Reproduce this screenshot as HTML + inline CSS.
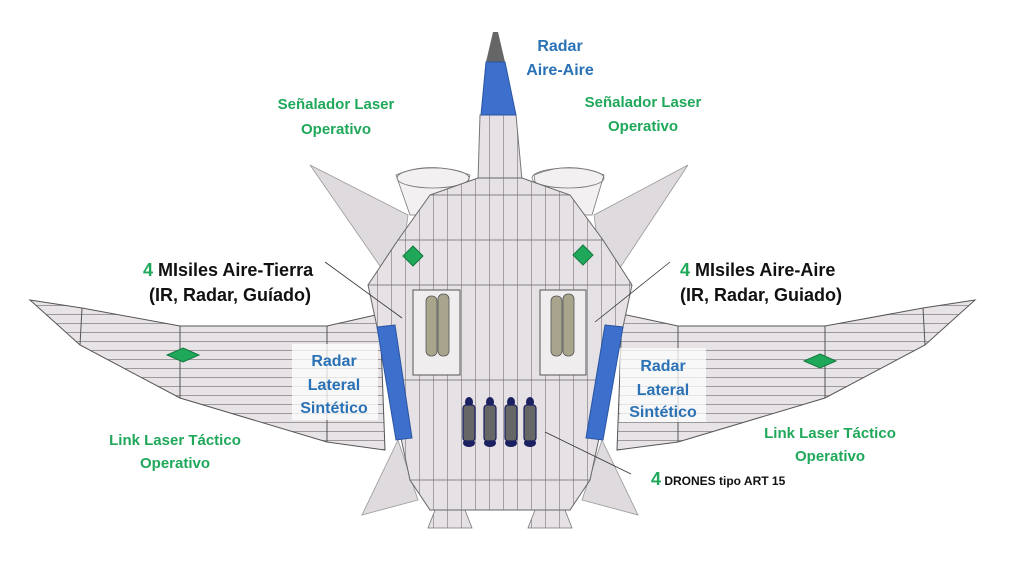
<!DOCTYPE html>
<html><head><meta charset="utf-8"><style>
html,body{margin:0;padding:0;background:#fff;}
svg{display:block;}
text{font-family:"Liberation Sans",sans-serif;font-weight:bold;}
.g{fill:#1fa85a;font-size:15px;}
.b{fill:#2a72b5;font-size:16px;}
.k{fill:#111;font-size:18px;}
</style></head><body>
<svg width="1024" height="562" viewBox="0 0 1024 562" xmlns="http://www.w3.org/2000/svg">
<defs>
<pattern id="hl" width="10" height="9" patternUnits="userSpaceOnUse"><rect width="10" height="9" fill="#e8e3e7"/><line x1="0" y1="8.5" x2="10" y2="8.5" stroke="#8a8589" stroke-width="0.8"/></pattern>
<pattern id="vl" width="14" height="10" patternUnits="userSpaceOnUse"><rect width="14" height="10" fill="#e6e1e5"/><line x1="13.5" y1="0" x2="13.5" y2="10" stroke="#8a8589" stroke-width="0.7"/></pattern>
</defs>
<g stroke="#555" stroke-width="1">
<path d="M30,300 L82,308 L180,326 L327,326 L380,314 L385,450 L327,442 L180,398 L80,345 Z" fill="url(#hl)"/>
<path d="M975,300 L923,308 L825,326 L678,326 L622,314 L617,450 L678,442 L825,398 L925,345 Z" fill="url(#hl)"/>
<line x1="82" y1="308" x2="80" y2="345"/><line x1="180" y1="326" x2="180" y2="398"/><line x1="327" y1="326" x2="327" y2="442"/>
<line x1="923" y1="308" x2="925" y2="345"/><line x1="825" y1="326" x2="825" y2="398"/><line x1="678" y1="326" x2="678" y2="442"/>
</g>
<g fill="#dedadd" stroke="#999" stroke-width="0.8">
<polygon points="310,165 408,215 398,292"/>
<polygon points="688,165 594,215 604,292"/>
<polygon points="398,440 362,515 418,500"/>
<polygon points="602,440 638,515 582,500"/>
</g>
<g fill="#f3f0f2" stroke="#777" stroke-width="0.8">
<path d="M396,175 Q430,160 470,175 L460,215 L410,215 Z"/>
<path d="M534,175 Q570,160 604,175 L592,215 L540,215 Z"/>
<ellipse cx="433" cy="178" rx="36" ry="10" fill="none"/>
<ellipse cx="568" cy="178" rx="36" ry="10" fill="none"/>
</g>
<g fill="url(#vl)" stroke="#777" stroke-width="0.8">
<polygon points="435,510 465,510 472,528 428,528"/>
<polygon points="535,510 565,510 572,528 528,528"/>
</g>
<polygon points="480,115 516,115 522,180 478,180" fill="url(#vl)" stroke="#777"/>
<polygon points="493,32 498,32 505,62 486,62" fill="#666"/>
<polygon points="486,62 505,62 516,115 481,115" fill="#3d6fcc" stroke="#2a55a0"/>
<polygon points="478,178 522,178 570,195 603,240 632,285 590,480 570,510 430,510 410,480 368,285 398,240 430,195" fill="url(#vl)" stroke="#666" stroke-width="1"/>
<g stroke="#666" stroke-width="0.8" fill="none">
<line x1="368" y1="285" x2="632" y2="285"/>
<line x1="398" y1="240" x2="603" y2="240"/>
<line x1="430" y1="195" x2="570" y2="195"/>
<line x1="395" y1="380" x2="605" y2="380"/>
<line x1="410" y1="480" x2="590" y2="480"/>
</g>
<rect x="413" y="290" width="47" height="85" fill="#f0edef" stroke="#555"/>
<rect x="540" y="290" width="46" height="85" fill="#f0edef" stroke="#555"/>
<g fill="#a8a58c" stroke="#555" stroke-width="0.8">
<rect x="426" y="296" width="11" height="60" rx="5"/><rect x="438" y="294" width="11" height="62" rx="5"/>
<rect x="551" y="296" width="11" height="60" rx="5"/><rect x="563" y="294" width="11" height="62" rx="5"/>
</g>
<polygon points="377,327 395,325 412,438 396,440" fill="#3d6fcc" stroke="#2a55a0"/>
<polygon points="605,325 623,327 603,440 586,438" fill="#3d6fcc" stroke="#2a55a0"/>
<g>
<g fill="#1a2060"><ellipse cx="469" cy="402" rx="4" ry="5"/><ellipse cx="490" cy="402" rx="4" ry="5"/><ellipse cx="511" cy="402" rx="4" ry="5"/><ellipse cx="530" cy="402" rx="4" ry="5"/>
<ellipse cx="469" cy="443" rx="6" ry="4"/><ellipse cx="490" cy="443" rx="6" ry="4"/><ellipse cx="511" cy="443" rx="6" ry="4"/><ellipse cx="530" cy="443" rx="6" ry="4"/></g>
<g fill="#666" stroke="#1a2060" stroke-width="1.2">
<rect x="463" y="405" width="12" height="36" rx="3"/><rect x="484" y="405" width="12" height="36" rx="3"/>
<rect x="505" y="405" width="12" height="36" rx="3"/><rect x="524" y="405" width="12" height="36" rx="3"/>
</g></g>
<g fill="#1fa85a" stroke="#137a3f">
<polygon points="413,246 423,256 413,266 403,256"/>
<polygon points="583,245 593,255 583,265 573,255"/>
<polygon points="183,348 199,355 183,362 167,355"/>
<polygon points="820,354 836,361 820,368 804,361"/>
</g>
<rect x="292" y="344" width="86" height="76" fill="#fff" opacity="0.75"/>
<rect x="620" y="348" width="86" height="74" fill="#fff" opacity="0.75"/>
<g stroke="#333" stroke-width="0.8">
<line x1="325" y1="262" x2="402" y2="318"/>
<line x1="670" y1="262" x2="595" y2="322"/>
<line x1="545" y1="432" x2="631" y2="474"/>
</g>
<text class="b" x="560" y="51" text-anchor="middle">Radar</text>
<text class="b" x="560" y="75" text-anchor="middle">Aire-Aire</text>
<text class="g" x="336" y="109" text-anchor="middle">Señalador Laser</text>
<text class="g" x="336" y="134" text-anchor="middle">Operativo</text>
<text class="g" x="643" y="107" text-anchor="middle">Señalador Laser</text>
<text class="g" x="643" y="131" text-anchor="middle">Operativo</text>
<text class="k" x="143" y="276"><tspan fill="#1fa85a">4</tspan> MIsiles Aire-Tierra</text>
<text class="k" x="149" y="301">(IR, Radar, Guíado)</text>
<text class="k" x="680" y="276"><tspan fill="#1fa85a">4</tspan> MIsiles Aire-Aire</text>
<text class="k" x="680" y="301">(IR, Radar, Guiado)</text>
<text class="b" x="334" y="366" text-anchor="middle">Radar</text>
<text class="b" x="334" y="390" text-anchor="middle">Lateral</text>
<text class="b" x="334" y="413" text-anchor="middle">Sintético</text>
<text class="b" x="663" y="371" text-anchor="middle">Radar</text>
<text class="b" x="663" y="395" text-anchor="middle">Lateral</text>
<text class="b" x="663" y="417" text-anchor="middle">Sintético</text>
<text class="g" x="175" y="445" text-anchor="middle">Link Laser Táctico</text>
<text class="g" x="175" y="468" text-anchor="middle">Operativo</text>
<text class="g" x="830" y="438" text-anchor="middle">Link Laser Táctico</text>
<text class="g" x="830" y="461" text-anchor="middle">Operativo</text>
<text x="651" y="485" style="font-size:12px" fill="#111"><tspan fill="#1fa85a" style="font-size:18px">4</tspan> DRONES tipo  ART 15</text>
</svg>
</body></html>
